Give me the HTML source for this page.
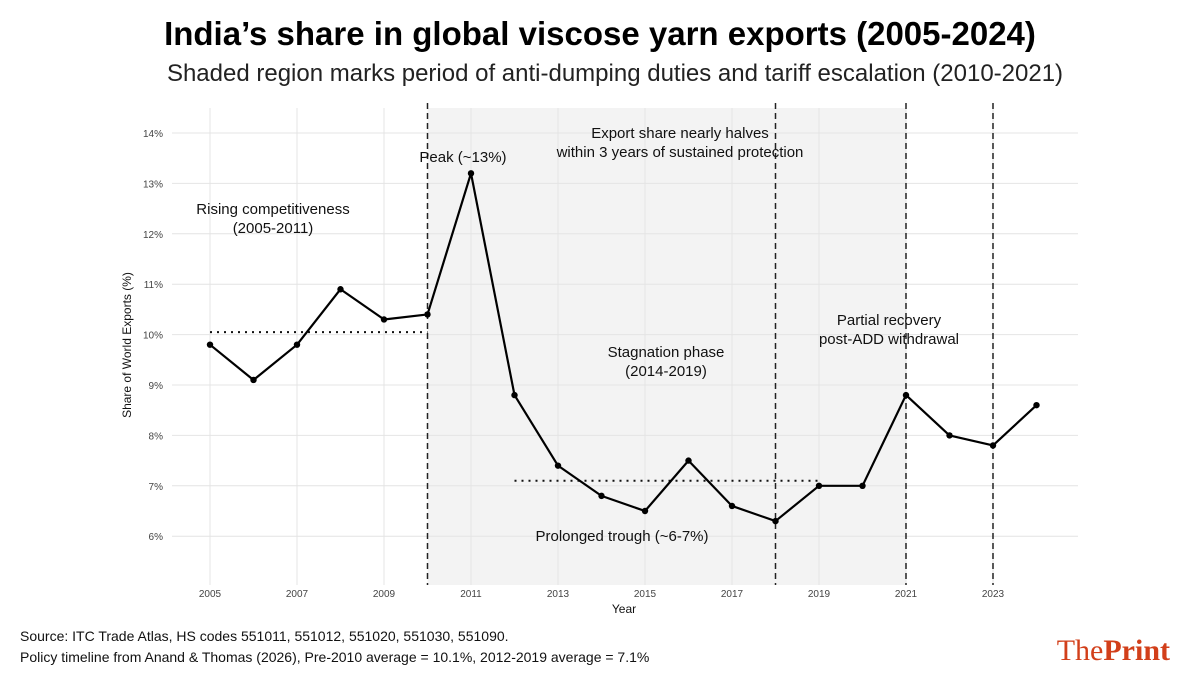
<!DOCTYPE html>
<html><head><meta charset="utf-8"><style>
body{margin:0;background:#fff;font-family:"Liberation Sans",sans-serif}
</style></head><body>
<svg id="c" width="1200" height="675" viewBox="0 0 1200 675" xmlns="http://www.w3.org/2000/svg">
<text x="600" y="45" text-anchor="middle" font-size="33" font-weight="bold" fill="#000">India’s share in global viscose yarn exports (2005-2024)</text>
<text x="615" y="81" text-anchor="middle" font-size="24" fill="#222">Shaded region marks period of anti-dumping duties and tariff escalation (2010-2021)</text>
<g id="plot"></g>
<text x="20" y="641" font-size="14" fill="#111">Source: ITC Trade Atlas, HS codes 551011, 551012, 551020, 551030, 551090.</text>
<text x="20" y="662" font-size="14" fill="#111">Policy timeline from Anand &amp; Thomas (2026), Pre-2010 average = 10.1%, 2012-2019 average = 7.1%</text>
<text x="1170" y="660" text-anchor="end" font-family="Liberation Serif,serif" font-size="30" fill="#d23f1a">The<tspan font-weight="bold">Print</tspan></text>
</svg>
<script>
const years=[2005,2006,2007,2008,2009,2010,2011,2012,2013,2014,2015,2016,2017,2018,2019,2020,2021,2022,2023,2024];
const shares=[9.8,9.1,9.8,10.9,10.3,10.4,13.2,8.8,7.4,6.8,6.5,7.5,6.6,6.3,7.0,7.0,8.8,8.0,7.8,8.6];
const yTicks=[6,7,8,9,10,11,12,13,14];
const xTicks=[2005,2007,2009,2011,2013,2015,2017,2019,2021,2023];
const shadeRange=[2010,2021];
const eventYears=[2010,2018,2021,2023];
const avgPre=[2005,2010,10.05];
const avgMid=[2012,2019,7.1];
const NS="http://www.w3.org/2000/svg";
const X=y=>210+(y-2005)*43.5;
const Y=v=>133+(14-v)*50.4;
const g=document.getElementById('plot');
function mk(t,a){const e=document.createElementNS(NS,t);for(const k in a)e.setAttribute(k,a[k]);g.appendChild(e);return e;}
const pTop=108,pBot=585,pLeft=172,pRight=1078;
let s=mk('rect',{x:X(shadeRange[0]),y:pTop,width:X(shadeRange[1])-X(shadeRange[0]),height:pBot-pTop,fill:'#f3f3f3'});


yTicks.forEach(v=>{let l=mk('line',{x1:pLeft,x2:pRight,y1:Y(v),y2:Y(v),stroke:'#e4e4e4','stroke-width':1});

});
xTicks.forEach(yr=>{let l=mk('line',{x1:X(yr),x2:X(yr),y1:pTop,y2:pBot,stroke:'#e4e4e4','stroke-width':1});

});
yTicks.forEach(v=>{let t=mk('text',{x:163,y:Y(v)+4,'text-anchor':'end','font-size':10,fill:'#444'});t.textContent=v+'%';

});
xTicks.forEach(v=>{let t=mk('text',{x:X(v),y:597,'text-anchor':'middle','font-size':10,fill:'#444'});t.textContent=v;

});
eventYears.forEach(v=>{let l=mk('line',{x1:X(v),x2:X(v),y1:pTop-5,y2:pBot,stroke:'#222','stroke-width':1.5,'stroke-dasharray':'6,4'});

});
[avgPre,avgMid].forEach(a=>{let l=mk('line',{x1:X(a[0]),x2:X(a[1]),y1:Y(a[2]),y2:Y(a[2]),stroke:'#111','stroke-width':2,'stroke-dasharray':'2,5'});

});
let p=mk('polyline',{points:years.map((y,i)=>X(y)+','+Y(shares[i])).join(' '),fill:'none',stroke:'#000','stroke-width':2.2,'stroke-linejoin':'round'});


years.forEach((y,i)=>{let c=mk('circle',{cx:X(y),cy:Y(shares[i]),r:3.2,fill:'#000'});

});
const notes=[[273,214,'Rising competitiveness'],[273,233,'(2005-2011)'],[463,162,'Peak (~13%)'],[680,138,'Export share nearly halves'],[680,157,'within 3 years of sustained protection'],[666,357,'Stagnation phase'],[666,376,'(2014-2019)'],[622,541,'Prolonged trough (~6-7%)'],[889,325,'Partial recovery'],[889,344,'post-ADD withdrawal']];
notes.forEach(n=>{let t=mk('text',{x:n[0],y:n[1],'text-anchor':'middle','font-size':15,fill:'#111'});t.textContent=n[2];

});
let xt=mk('text',{x:624,y:613,'text-anchor':'middle','font-size':12,fill:'#111'});xt.textContent='Year';


let yt=mk('text',{x:131,y:345,'text-anchor':'middle','font-size':12,fill:'#111',transform:'rotate(-90 131 345)'});yt.textContent='Share of World Exports (%)';


</script>
</body></html>
